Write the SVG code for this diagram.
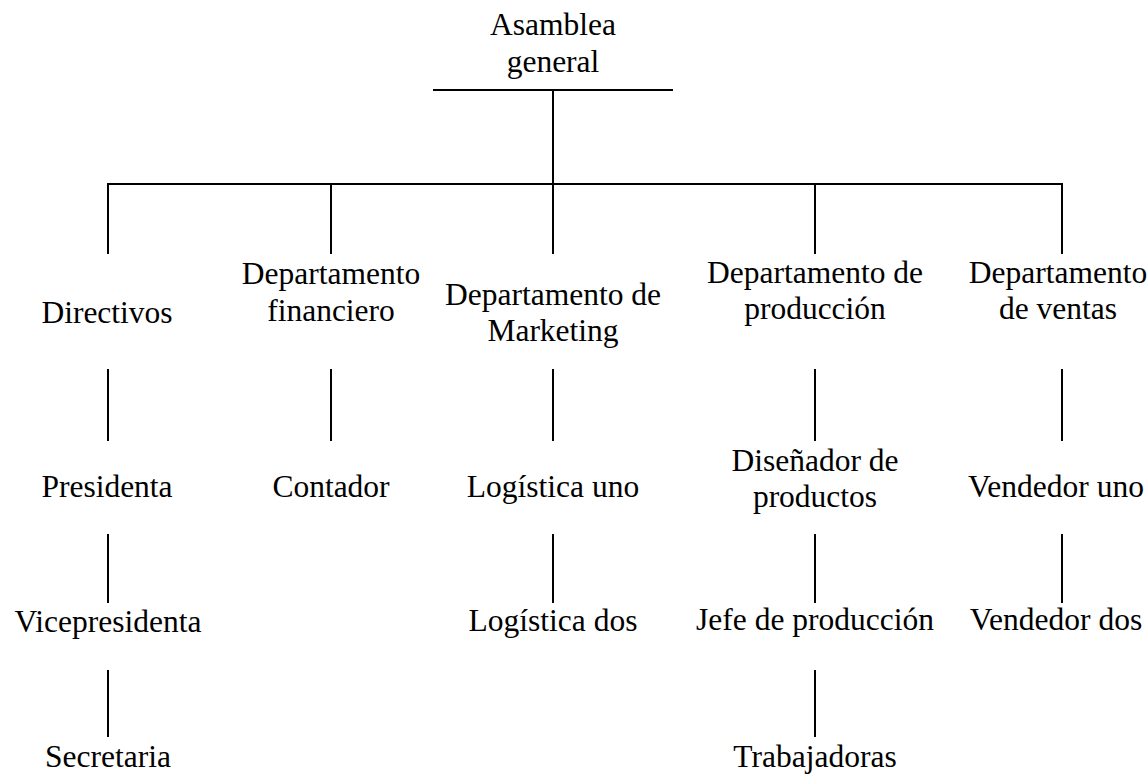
<svg xmlns="http://www.w3.org/2000/svg" width="1148" height="774" viewBox="0 0 1148 774">
<style>
text{font-family:"Liberation Serif","Times New Roman",serif;font-size:31.5px;fill:#000;text-anchor:middle}
.c line{stroke:#000;stroke-width:2;fill:none}
</style>
<rect width="1148" height="774" fill="#fff"/>
<g class="c" id="connectors">
<line x1="433" y1="90" x2="673" y2="90"/>
<line x1="553" y1="90" x2="553" y2="184"/>
<line x1="107" y1="184" x2="1063" y2="184"/>
<line x1="108" y1="183" x2="108" y2="254"/>
<line x1="331" y1="183" x2="331" y2="254"/>
<line x1="553" y1="183" x2="553" y2="254"/>
<line x1="815" y1="183" x2="815" y2="254"/>
<line x1="1062" y1="183" x2="1062" y2="254"/>
<line x1="108" y1="369" x2="108" y2="441"/>
<line x1="331" y1="369" x2="331" y2="441"/>
<line x1="553" y1="369" x2="553" y2="441"/>
<line x1="815" y1="369" x2="815" y2="441"/>
<line x1="1062" y1="369" x2="1062" y2="441"/>
<line x1="108" y1="534" x2="108" y2="603"/>
<line x1="553" y1="534" x2="553" y2="603"/>
<line x1="815" y1="534" x2="815" y2="603"/>
<line x1="1062" y1="534" x2="1062" y2="603"/>
<line x1="108" y1="670" x2="108" y2="737"/>
<line x1="815" y1="670" x2="815" y2="737"/>
</g>
<g id="asamblea"><text x="553" y="35">Asamblea</text><text x="553" y="72">general</text></g>
<g id="directivos"><text x="107" y="323">Directivos</text></g>
<g id="financiero"><text x="331" y="284">Departamento</text><text x="331" y="321">financiero</text></g>
<g id="marketing"><text x="553" y="305">Departamento de</text><text x="553" y="341">Marketing</text></g>
<g id="produccion"><text x="815" y="283">Departamento de</text><text x="815" y="319">producción</text></g>
<g id="ventas"><text x="1058" y="283">Departamento</text><text x="1058" y="319">de ventas</text></g>
<g id="presidenta"><text x="107" y="497">Presidenta</text></g>
<g id="contador"><text x="331" y="497">Contador</text></g>
<g id="logistica-uno"><text x="553" y="497">Logística uno</text></g>
<g id="disenador"><text x="815" y="471">Diseñador de</text><text x="815" y="507">productos</text></g>
<g id="vendedor-uno"><text x="1056" y="497">Vendedor uno</text></g>
<g id="vicepresidenta"><text x="108" y="632">Vicepresidenta</text></g>
<g id="logistica-dos"><text x="553" y="631">Logística dos</text></g>
<g id="jefe"><text x="815" y="630">Jefe de producción</text></g>
<g id="vendedor-dos"><text x="1056" y="630">Vendedor dos</text></g>
<g id="secretaria"><text x="108" y="767">Secretaria</text></g>
<g id="trabajadoras"><text x="815" y="767">Trabajadoras</text></g>
</svg>
